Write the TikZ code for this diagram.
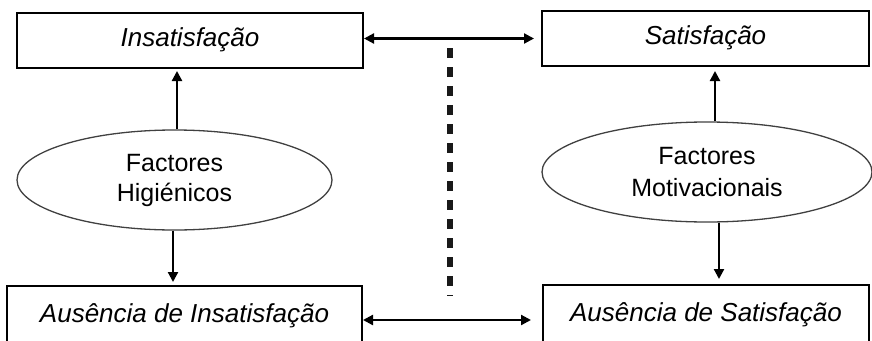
\documentclass[tikz,border=0pt]{standalone}
\usepackage{fontspec}
\setmainfont{Liberation Sans}
\usetikzlibrary{shapes.geometric,arrows.meta}
\begin{document}
\begin{tikzpicture}[x=1pt,y=-1pt,
  boxnode/.style={draw=black,line width=2pt,rectangle,inner sep=0pt,
    text height=17pt,text depth=5pt,font=\fontsize{26}{30}\selectfont\itshape},
  ellnode/.style={draw=black!75,line width=1.3pt,ellipse,inner sep=0pt,align=center,
    font=\fontsize{25}{30}\selectfont},
  arr/.style={line width=2.2pt,-{Triangle[length=10pt,width=10pt]}},
  darr/.style={line width=2.2pt,{Triangle[length=10pt,width=10pt]}-{Triangle[length=10pt,width=10pt]}},
  sep/.style={line width=6pt,dash pattern=on 10pt off 9pt,draw=black!90}]
\useasboundingbox (0,0) rectangle (872,340);
\clip (0,0) rectangle (872,340);
\node[boxnode,minimum width=346pt,minimum height=55pt] (tl) at (190,40.5) {Insatisfação};
\node[boxnode,minimum width=327pt,minimum height=55pt] (tr) at (705.5,38.5) {Satisfação};
\node[boxnode,minimum width=355pt,minimum height=60pt] (bl) at (184.5,316) {Ausência de Insatisfação};
\node[boxnode,minimum width=326pt,minimum height=60pt] (br) at (706,315) {Ausência de Satisfação};
\node[ellnode,minimum width=315pt,minimum height=100pt] (el) at (174.5,180) {Factores\\Higiénicos};
\node[ellnode,minimum width=330pt,minimum height=100pt] (er) at (707,172) {Factores\\[2pt]Motivacionais};
\coordinate (dtop) at (450,48);
\coordinate (dbot) at (450,296);
\draw[sep] (dtop) -- (dbot);
% top double arrow
\draw[darr,shorten >=7pt] (tl.east |- tr.west) -- (tr.west);
% bottom double arrow
\draw[darr,shorten >=11pt] (bl.east |- 0,320) -- (br.west |- 0,320);
% vertical arrows
\draw[arr,shorten >=2pt] (el.north -| 177,0) -- (tl.south -| 177,0);
\draw[arr,shorten >=3pt] (el.south -| 173,0) -- (bl.north -| 173,0);
\draw[arr,shorten >=4pt] (er.north -| 715,0) -- (tr.south -| 715,0);
\draw[arr,shorten >=5pt] (er.south -| 719,0) -- (br.north -| 719,0);
\end{tikzpicture}
\end{document}
